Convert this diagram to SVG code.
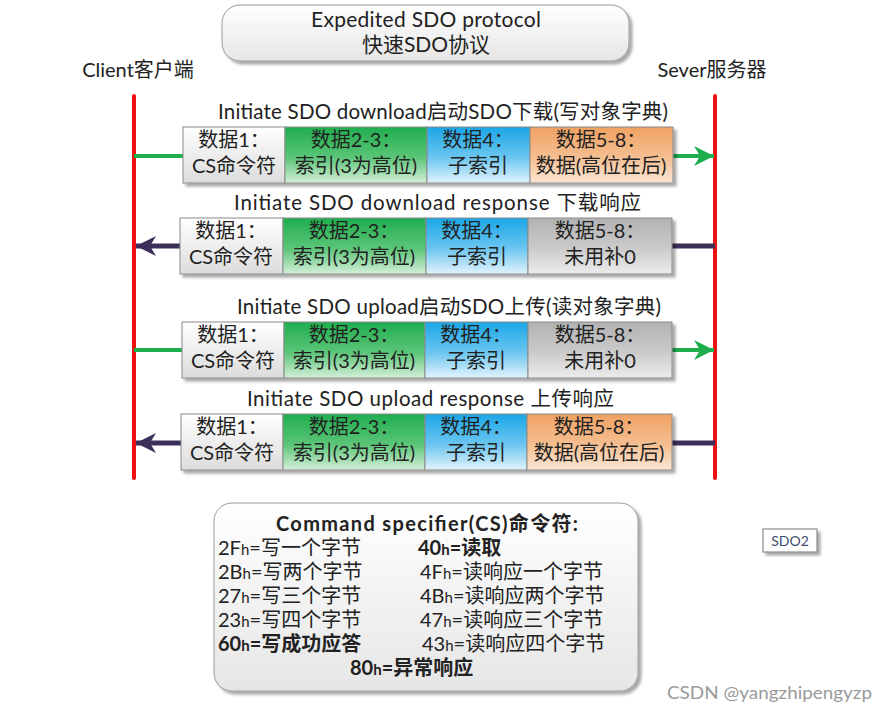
<svg xmlns="http://www.w3.org/2000/svg" width="887" height="714" viewBox="0 0 887 714">
<defs>
<linearGradient id="gW" x1="0" y1="0" x2="0" y2="1"><stop offset="0" stop-color="#ffffff"/><stop offset="1" stop-color="#dcdcdc"/></linearGradient>
<linearGradient id="gG" x1="0" y1="0" x2="0" y2="1"><stop offset="0" stop-color="#1fae4e"/><stop offset="0.55" stop-color="#5cc578"/><stop offset="1" stop-color="#d4efd9"/></linearGradient>
<linearGradient id="gB" x1="0" y1="0" x2="0" y2="1"><stop offset="0" stop-color="#1ba6e6"/><stop offset="0.55" stop-color="#6cc6f0"/><stop offset="1" stop-color="#e2f3fc"/></linearGradient>
<linearGradient id="gO" x1="0" y1="0" x2="0" y2="1"><stop offset="0" stop-color="#f0a162"/><stop offset="0.55" stop-color="#f5bf92"/><stop offset="1" stop-color="#fbe6d4"/></linearGradient>
<linearGradient id="gS" x1="0" y1="0" x2="0" y2="1"><stop offset="0" stop-color="#b2b2b2"/><stop offset="0.55" stop-color="#cbcbcb"/><stop offset="1" stop-color="#ececec"/></linearGradient>
<linearGradient id="gT" x1="0" y1="0" x2="0" y2="1"><stop offset="0" stop-color="#ffffff"/><stop offset="1" stop-color="#e6e6e6"/></linearGradient>
<filter id="sh" x="-5%" y="-10%" width="115%" height="130%"><feGaussianBlur in="SourceAlpha" stdDeviation="1.5"/><feOffset dx="3" dy="3" result="b"/><feComponentTransfer><feFuncA type="linear" slope="0.35"/></feComponentTransfer><feMerge><feMergeNode/><feMergeNode in="SourceGraphic"/></feMerge></filter>
<marker id="aG" viewBox="0 0 10 10" refX="10" refY="5" markerWidth="5" markerHeight="5.5" orient="auto" markerUnits="strokeWidth"><path d="M0,0 L10,5 L0,10 L3,5 Z" fill="#1fae4e"/></marker>
<marker id="aP" viewBox="0 0 10 10" refX="10" refY="5" markerWidth="4" markerHeight="4.6" orient="auto" markerUnits="strokeWidth"><path d="M0,0 L10,5 L0,10 L3,5 Z" fill="#3c2f5a"/></marker>
</defs>
<style>
text{font-family:Lato,"Noto Sans CJK SC",sans-serif;fill:#222;}
.t{font-size:21px;text-anchor:middle;}
.l{font-size:20.5px;text-anchor:middle;}
.n{font-size:20px;text-anchor:middle;}
.c{font-size:20px;text-anchor:middle;}
.cell{stroke:#8a8a8a;stroke-width:1;}
.life{stroke:#ee1111;stroke-width:4;stroke-linecap:round;}
.g{stroke:#1fae4e;stroke-width:4;fill:none;}
.p{stroke:#3c2f5a;stroke-width:5;fill:none;}
.k{font-size:20px;}
.h{font-size:15px;}
.b{font-weight:bold;}
.m{text-anchor:middle;}
</style>

<g id="title">
<rect x="222" y="5" width="407" height="56" rx="18" fill="url(#gT)" stroke="#9a9a9a" filter="url(#sh)"/>
<text class="t" x="426" y="27" textLength="230" lengthAdjust="spacing">Expedited SDO protocol</text>
<text class="t" x="426" y="52">快速SDO协议</text>
</g>

<g id="client">
<text class="n" x="138" y="77">Client客户端</text>
<line class="life" x1="134" y1="96" x2="134" y2="478"/>
</g>
<g id="server">
<text class="n" x="712" y="77">Sever服务器</text>
<line class="life" x1="715" y1="96" x2="715" y2="478"/>
</g>

<g id="connectors">
<line class="g" x1="134" y1="156" x2="183" y2="156"/>
<line class="g" x1="673" y1="156" x2="714" y2="156" marker-end="url(#aG)"/>
<line class="p" x1="715" y1="246" x2="672" y2="246"/>
<line class="p" x1="180" y1="246" x2="136" y2="246" marker-end="url(#aP)"/>
<line class="g" x1="134" y1="350" x2="182" y2="350"/>
<line class="g" x1="672" y1="350" x2="714" y2="350" marker-end="url(#aG)"/>
<line class="p" x1="715" y1="443" x2="672" y2="443"/>
<line class="p" x1="181" y1="443" x2="136" y2="443" marker-end="url(#aP)"/>
</g>

<g id="row1">
<text class="l" x="443" y="119" textLength="450" lengthAdjust="spacing">Initiate SDO download启动SDO下载(写对象字典)</text>
<g filter="url(#sh)">
<rect class="cell" x="183" y="127" width="102" height="56" fill="url(#gW)"/>
<rect class="cell" x="285" y="127" width="142" height="56" fill="url(#gG)"/>
<rect class="cell" x="427" y="127" width="103" height="56" fill="url(#gB)"/>
<rect class="cell" x="530" y="127" width="143" height="56" fill="url(#gO)"/>
</g>
<text class="c"><tspan x="234" y="147">数据1：</tspan><tspan x="234" y="173">CS命令符</tspan></text>
<text class="c"><tspan x="356" y="147">数据2-3：</tspan><tspan x="356" y="173">索引(3为高位)</tspan></text>
<text class="c"><tspan x="478" y="147">数据4：</tspan><tspan x="478" y="173">子索引</tspan></text>
<text class="c"><tspan x="601" y="147">数据5-8：</tspan><tspan x="601" y="173">数据(高位在后)</tspan></text>
</g>

<g id="row2">
<text class="l" x="437.5" y="210" textLength="407" lengthAdjust="spacing">Initiate SDO download response 下载响应</text>
<g filter="url(#sh)">
<rect class="cell" x="180" y="218" width="103" height="56" fill="url(#gW)"/>
<rect class="cell" x="283" y="218" width="143" height="56" fill="url(#gG)"/>
<rect class="cell" x="426" y="218" width="102" height="56" fill="url(#gB)"/>
<rect class="cell" x="528" y="218" width="144" height="56" fill="url(#gS)"/>
</g>
<text class="c"><tspan x="231" y="238">数据1：</tspan><tspan x="231" y="264">CS命令符</tspan></text>
<text class="c"><tspan x="354" y="238">数据2-3：</tspan><tspan x="354" y="264">索引(3为高位)</tspan></text>
<text class="c"><tspan x="477" y="238">数据4：</tspan><tspan x="477" y="264">子索引</tspan></text>
<text class="c"><tspan x="600" y="238">数据5-8：</tspan><tspan x="600" y="264">未用补0</tspan></text>
</g>

<g id="row3">
<text class="l" x="449" y="314" textLength="424" lengthAdjust="spacing">Initiate SDO upload启动SDO上传(读对象字典)</text>
<g filter="url(#sh)">
<rect class="cell" x="182" y="322" width="102" height="56" fill="url(#gW)"/>
<rect class="cell" x="284" y="322" width="141" height="56" fill="url(#gG)"/>
<rect class="cell" x="425" y="322" width="103" height="56" fill="url(#gB)"/>
<rect class="cell" x="528" y="322" width="144" height="56" fill="url(#gS)"/>
</g>
<text class="c"><tspan x="233" y="342">数据1：</tspan><tspan x="233" y="368">CS命令符</tspan></text>
<text class="c"><tspan x="354" y="342">数据2-3：</tspan><tspan x="354" y="368">索引(3为高位)</tspan></text>
<text class="c"><tspan x="476" y="342">数据4：</tspan><tspan x="476" y="368">子索引</tspan></text>
<text class="c"><tspan x="600" y="342">数据5-8：</tspan><tspan x="600" y="368">未用补0</tspan></text>
</g>

<g id="row4">
<text class="l" x="430.5" y="406" textLength="367" lengthAdjust="spacing">Initiate SDO upload response 上传响应</text>
<g filter="url(#sh)">
<rect class="cell" x="181" y="414" width="102" height="56" fill="url(#gW)"/>
<rect class="cell" x="283" y="414" width="142" height="56" fill="url(#gG)"/>
<rect class="cell" x="425" y="414" width="102" height="56" fill="url(#gB)"/>
<rect class="cell" x="527" y="414" width="145" height="56" fill="url(#gO)"/>
</g>
<text class="c"><tspan x="232" y="434">数据1：</tspan><tspan x="232" y="460">CS命令符</tspan></text>
<text class="c"><tspan x="354" y="434">数据2-3：</tspan><tspan x="354" y="460">索引(3为高位)</tspan></text>
<text class="c"><tspan x="476" y="434">数据4：</tspan><tspan x="476" y="460">子索引</tspan></text>
<text class="c"><tspan x="599" y="434">数据5-8：</tspan><tspan x="599" y="460">数据(高位在后)</tspan></text>
</g>

<g id="legend">
<rect x="214" y="503" width="424" height="188" rx="18" fill="url(#gT)" stroke="#9a9a9a" filter="url(#sh)"/>
<text class="k b m" x="427" y="531" textLength="302" lengthAdjust="spacing">Command specifier(CS)命令符:</text>
<text class="k"><tspan x="218" y="555">2F<tspan class="h">h</tspan>=写一个字节</tspan><tspan class="b" x="418" y="555">40<tspan class="h">h</tspan>=读取</tspan><tspan x="218" y="579">2B<tspan class="h">h</tspan>=写两个字节</tspan><tspan x="420" y="579">4F<tspan class="h">h</tspan>=读响应一个字节</tspan><tspan x="218" y="603">27<tspan class="h">h</tspan>=写三个字节</tspan><tspan x="420" y="603">4B<tspan class="h">h</tspan>=读响应两个字节</tspan><tspan x="218" y="627">23<tspan class="h">h</tspan>=写四个字节</tspan><tspan x="420" y="627">47<tspan class="h">h</tspan>=读响应三个字节</tspan><tspan class="b" x="218" y="651">60<tspan class="h">h</tspan>=写成功应答</tspan><tspan x="422" y="651">43<tspan class="h">h</tspan>=读响应四个字节</tspan><tspan class="b" x="350" y="675">80<tspan class="h">h</tspan>=异常响应</tspan></text>
</g>

<g id="sdo2">
<rect x="763" y="529" width="54" height="23" fill="#ffffff" stroke="#777" filter="url(#sh)"/>
<text x="790" y="546" text-anchor="middle" style="font-size:14px;fill:#3a4a6e">SDO2</text>
</g>

<text x="872" y="699" text-anchor="end" textLength="205" lengthAdjust="spacingAndGlyphs" style="font-size:17px;fill:#9a9a9a">CSDN @yangzhipengyzp</text>
</svg>
